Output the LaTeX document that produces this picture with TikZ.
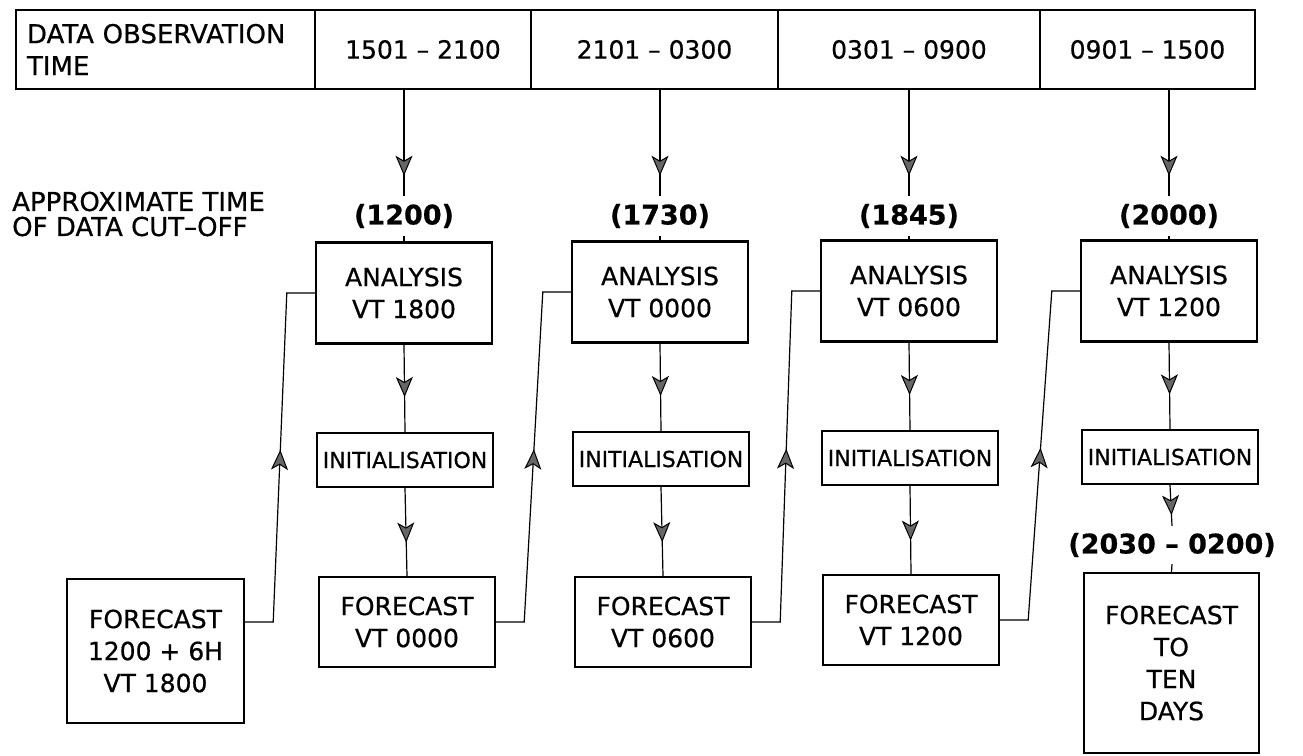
\documentclass[tikz,border=0pt]{standalone}
\usepackage{fontspec}
\setmainfont{DejaVu Sans}[FakeBold=0.6]
\usetikzlibrary{arrows.meta,decorations.markings,calc}

\begin{document}
\begin{tikzpicture}[x=1pt,y=-1pt,
  box/.style={draw,line width=2.4pt,align=center,inner sep=0pt,
              font=\fontsize{25}{32}\selectfont},
  cell/.style={box,minimum height=79pt},
  ana/.style={box,minimum width=176pt,minimum height=101pt},
  ini/.style={box,minimum width=176pt,minimum height=54pt,
              font=\fontsize{22}{26}\selectfont},
  fcst/.style={box,minimum width=176pt,minimum height=90pt},
  cutoff/.style={font=\fontsize{27}{30}\selectfont\bfseries,
                 inner xsep=0pt,inner ysep=8pt},
  link/.style={line width=1.2pt},
  midarrow/.style={link,postaction={decorate},decoration={markings,
      mark=at position #1 with {\arrow[line width=1pt]{Stealth[length=20pt,width=17pt,inset=5pt,fill=black!60]}}}},
  midarrow/.default=0.6,
]
\useasboundingbox[fill=white] (0,0) rectangle (1303,755);

% Observation time table
\node[cell,minimum width=299pt,text width=277pt,align=left,
      font=\fontsize{26}{32}\selectfont] (c0) at (165.5,49.5)
     {DATA OBSERVATION\\TIME};
\node[cell,minimum width=216pt] (c1) at (423,49.5)    {1501 – 2100};
\node[cell,minimum width=247pt] (c2) at (654.5,49.5)  {2101 – 0300};
\node[cell,minimum width=262pt] (c3) at (909,49.5)    {0301 – 0900};
\node[cell,minimum width=215pt] (c4) at (1147.5,49.5) {0901 – 1500};

\node[font=\fontsize{26}{25}\selectfont,align=left,anchor=west,inner sep=0pt]
     (cutlbl) at (12,214) {APPROXIMATE TIME\\OF DATA CUT–OFF};

% Cut-off times
\node[cutoff] (cut1) at (404,216)  {(1200)};
\node[cutoff] (cut2) at (660,216)  {(1730)};
\node[cutoff] (cut3) at (909,216)  {(1845)};
\node[cutoff] (cut4) at (1169,216) {(2000)};

% Analyses
\node[ana] (ana1) at (404,293)  {ANALYSIS\\VT 1800};
\node[ana] (ana2) at (660,292)  {ANALYSIS\\VT 0000};
\node[ana] (ana3) at (909,291)  {ANALYSIS\\VT 0600};
\node[ana] (ana4) at (1169,291) {ANALYSIS\\VT 1200};

% Initialisation
\node[ini] (ini1) at (405,460)  {INITIALISATION};
\node[ini] (ini2) at (661,459)  {INITIALISATION};
\node[ini] (ini3) at (910,458)  {INITIALISATION};
\node[ini] (ini4) at (1170,457) {INITIALISATION};

% Forecasts
\node[box,minimum width=177pt,minimum height=144pt] (fc0) at (155.5,651)
     {FORECAST\\1200 + 6H\\VT 1800};
\node[fcst] (fc1) at (407,622)  {FORECAST\\VT 0000};
\node[fcst] (fc2) at (663,622)  {FORECAST\\VT 0600};
\node[fcst] (fc3) at (911,620)  {FORECAST\\VT 1200};
\node[cutoff,inner ysep=7pt] (cut5) at (1172,545) {(2030 – 0200)};
\node[box,minimum width=175pt,minimum height=180pt] (fcten) at (1171.5,663)
     {FORECAST\\TO\\TEN\\DAYS};

% Data flow down each column
\draw[midarrow=0.81] (c1.south -| cut1) -- (cut1.north);
\draw[midarrow=0.81] (c2.south -| cut2) -- (cut2.north);
\draw[midarrow=0.81] (c3.south -| cut3) -- (cut3.north);
\draw[midarrow=0.81] (c4.south -| cut4) -- (cut4.north);
\draw[link] (cut1.south) -- (ana1.north);
\draw[link] (cut2.south) -- (ana2.north);
\draw[link] (cut3.south) -- (ana3.north);
\draw[link] (cut4.south) -- (ana4.north);

\draw[midarrow] (ana1.south) -- (ini1.north);
\draw[midarrow] (ana2.south) -- (ini2.north);
\draw[midarrow] (ana3.south) -- (ini3.north);
\draw[midarrow] (ana4.south) -- (ini4.north);

\draw[midarrow=0.62] (ini1.south) -- (fc1.north);
\draw[midarrow=0.62] (ini2.south) -- (fc2.north);
\draw[midarrow=0.62] (ini3.south) -- (fc3.north);
\draw[midarrow=0.74] (ini4.south) -- (cut5.north);
\draw[link] (cut5.south) -- (fcten.north);

% Forecast used as first guess for next analysis
\draw[midarrow=0.52] (fc1 -| fc0.east) -- ++(28,0) -- ([xshift=-28pt]ana1.west) -- (ana1.west);
\draw[midarrow=0.52] (fc1.east) -- ++(28,0) -- ([xshift=-28pt]ana2.west) -- (ana2.west);
\draw[midarrow=0.52] (fc2.east) -- ++(28,0) -- ([xshift=-28pt]ana3.west) -- (ana3.west);
\draw[midarrow=0.52] (fc3.east) -- ++(28,0) -- ([xshift=-28pt]ana4.west) -- (ana4.west);
\end{tikzpicture}
\end{document}
